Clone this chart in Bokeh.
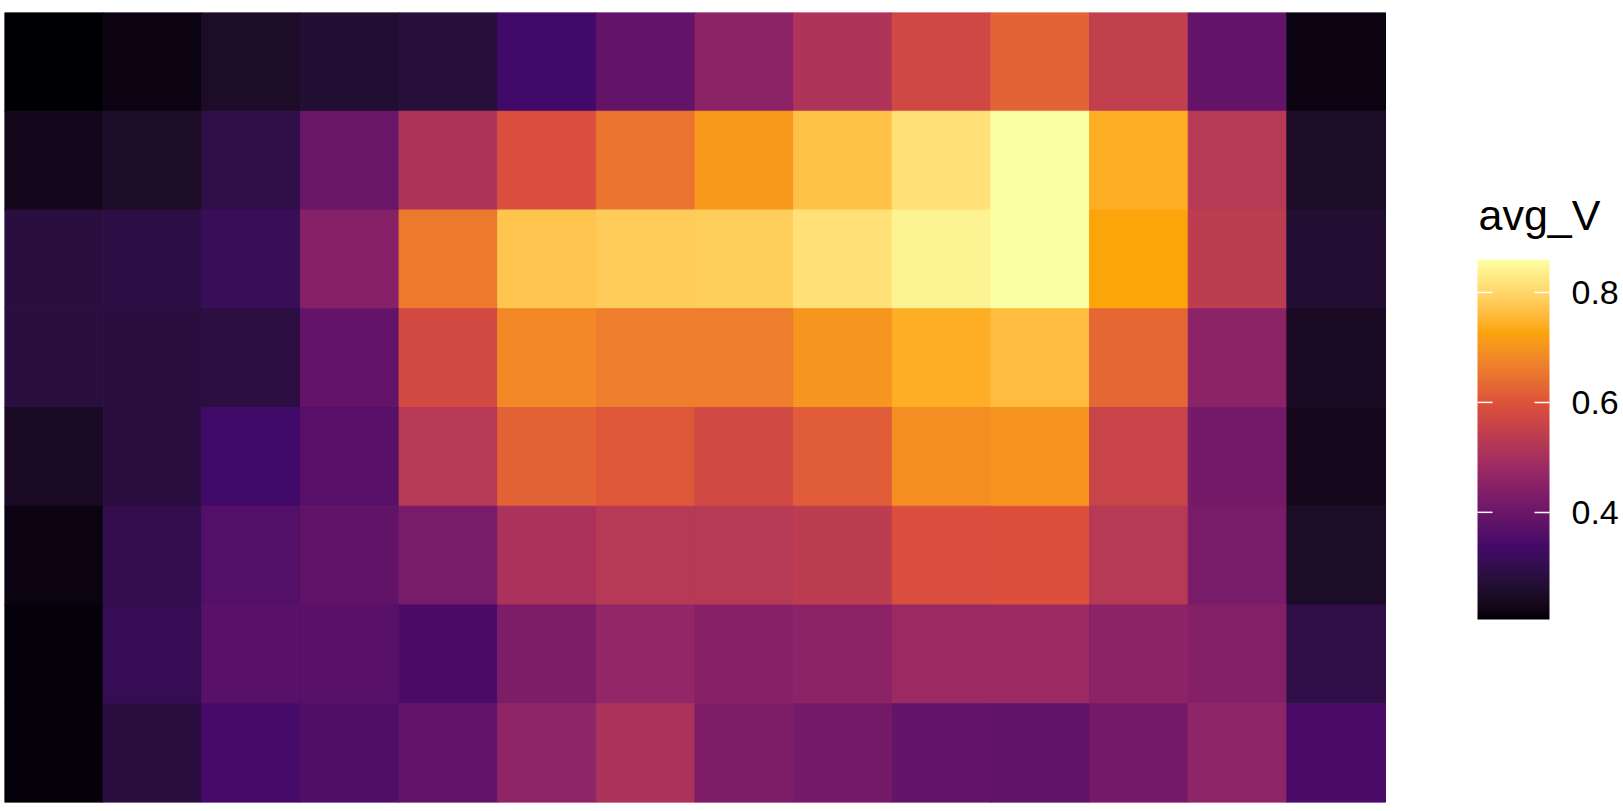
import numpy as np
from bokeh.plotting import figure
from bokeh.models import (ColumnDataSource, LinearColorMapper, ColorBar, FixedTicker,
                          Range1d, Label, BoxAnnotation)
from bokeh.transform import transform
from bokeh.embed import file_html
from bokeh.resources import INLINE

# values by row, top row first; 14 columns each
row1 = [0.205, 0.218, 0.251, 0.264, 0.277, 0.336, 0.388, 0.454, 0.513, 0.572, 0.624, 0.546, 0.388, 0.218]
row2 = [0.231, 0.251, 0.297, 0.395, 0.513, 0.591, 0.650, 0.709, 0.768, 0.814, 0.860, 0.742, 0.526, 0.251]
row3 = [0.284, 0.290, 0.316, 0.447, 0.657, 0.775, 0.785, 0.788, 0.814, 0.840, 0.860, 0.729, 0.539, 0.264]
row4 = [0.284, 0.284, 0.287, 0.388, 0.578, 0.683, 0.664, 0.664, 0.703, 0.742, 0.762, 0.631, 0.454, 0.244]
row5 = [0.244, 0.284, 0.336, 0.369, 0.526, 0.624, 0.605, 0.575, 0.614, 0.690, 0.700, 0.559, 0.415, 0.238]
row6 = [0.218, 0.303, 0.362, 0.382, 0.421, 0.506, 0.526, 0.526, 0.539, 0.591, 0.595, 0.526, 0.421, 0.251]
row7 = [0.212, 0.310, 0.369, 0.369, 0.349, 0.428, 0.467, 0.447, 0.454, 0.480, 0.480, 0.454, 0.441, 0.297]
row8 = [0.212, 0.284, 0.343, 0.356, 0.388, 0.460, 0.506, 0.428, 0.415, 0.388, 0.382, 0.415, 0.460, 0.349]
rows = [row1, row2, row3, row4, row5, row6, row7, row8]

legend_title = "avg_V"
legend_ticks = [0.4, 0.6, 0.8]
v_low, v_high = 0.205, 0.86

# inferno anchor colours (6), interpolated in CIE Lab like ggplot's viridis_c
anchors = ["#000004", "#420A68", "#932667", "#DD513A", "#FCA50A", "#FCFFA4"]

WHITE = np.array([0.95047, 1.0, 1.08883])
M = np.array([[0.4124564, 0.3575761, 0.1804375],
              [0.2126729, 0.7151522, 0.0721750],
              [0.0193339, 0.1191920, 0.9503041]])
Minv = np.linalg.inv(M)

def hex_to_lab(h):
    rgb = np.array([int(h[i:i + 2], 16) / 255 for i in (1, 3, 5)])
    lin = np.where(rgb <= 0.04045, rgb / 12.92, ((rgb + 0.055) / 1.055) ** 2.4)
    xyz = M @ lin / WHITE
    f = np.where(xyz > (6 / 29) ** 3, np.cbrt(xyz), xyz / (3 * (6 / 29) ** 2) + 4 / 29)
    return np.array([116 * f[1] - 16, 500 * (f[0] - f[1]), 200 * (f[1] - f[2])])

def lab_to_hex(lab):
    L, a, b = lab
    fy = (L + 16) / 116
    fx = fy + a / 500
    fz = fy - b / 200
    f = np.array([fx, fy, fz])
    xyz = np.where(f > 6 / 29, f ** 3, 3 * (6 / 29) ** 2 * (f - 4 / 29)) * WHITE
    lin = Minv @ xyz
    lin = np.clip(lin, 0, 1)
    rgb = np.where(lin <= 0.0031308, 12.92 * lin, 1.055 * lin ** (1 / 2.4) - 0.055)
    rgb = np.clip(np.round(rgb * 255), 0, 255).astype(int)
    return "#%02x%02x%02x" % tuple(rgb)

labs = [hex_to_lab(h) for h in anchors]
palette = []
for i in range(256):
    t = i / 255 * (len(anchors) - 1)
    k = min(int(t), len(anchors) - 2)
    f = t - k
    palette.append(lab_to_hex(labs[k] * (1 - f) + labs[k + 1] * f))

n_rows = len(rows)
n_cols = len(row1)

xs, ys, vs = [], [], []
for r, row in enumerate(rows):
    for c, v in enumerate(row):
        xs.append(c + 0.5)
        ys.append(n_rows - r - 0.5)
        vs.append(v)
src = ColumnDataSource(dict(x=xs, y=ys, v=vs))

mapper = LinearColorMapper(palette=palette, low=v_low, high=v_high)

W, H = 1623, 811
left_b, top_b, bottom_b = 4, 12, 9
heat_px = 1381
frame_w = W - left_b
p = figure(width=W, height=H, output_backend="svg", toolbar_location=None,
           x_range=Range1d(0, n_cols * frame_w / heat_px), y_range=Range1d(0, n_rows),
           min_border_left=left_b, min_border_right=0, min_border_top=top_b,
           min_border_bottom=bottom_b)
p.axis.visible = False
p.grid.visible = False
p.outline_line_color = None
p.background_fill_color = "white"
p.border_fill_color = "white"

p.rect(x="x", y="y", width=1, height=1, source=src,
       fill_color=transform("v", mapper), line_color=transform("v", mapper), line_width=1)

# colour bar (position in screen pixels from the frame's bottom-left)
bar_x, bar_y, bar_w, bar_h = 1473, 183, 72, 360
cb = ColorBar(color_mapper=mapper, location=(bar_x, bar_y), width=bar_w, height=bar_h,
              padding=0, margin=0,
              ticker=FixedTicker(ticks=legend_ticks),
              major_label_text_font="Liberation Sans", major_label_text_font_size="34px",
              major_label_text_color="black", label_standoff=22,
              major_tick_line_color="white", major_tick_line_width=1.5,
              major_tick_in=15, major_tick_out=0,
              minor_tick_line_color=None, bar_line_color=None,
              background_fill_alpha=0, border_line_color=None)
p.add_layout(cb, "center")

# ticks on the left side of the bar too
for t in legend_ticks:
    ty = bar_y + (t - v_low) / (v_high - v_low) * bar_h
    p.add_layout(BoxAnnotation(left=bar_x, right=bar_x + 15, bottom=ty - 0.75, top=ty + 0.75,
                               left_units="screen", right_units="screen",
                               bottom_units="screen", top_units="screen",
                               fill_color="white", fill_alpha=1, line_color=None))

p.add_layout(Label(x=bar_x + 1, y=588, x_units="screen", y_units="screen", text=legend_title,
                   text_font="Liberation Sans", text_font_size="43px", text_color="black",
                   text_baseline="alphabetic", text_align="left"))

open("out.html", "w").write(file_html(p, INLINE))
